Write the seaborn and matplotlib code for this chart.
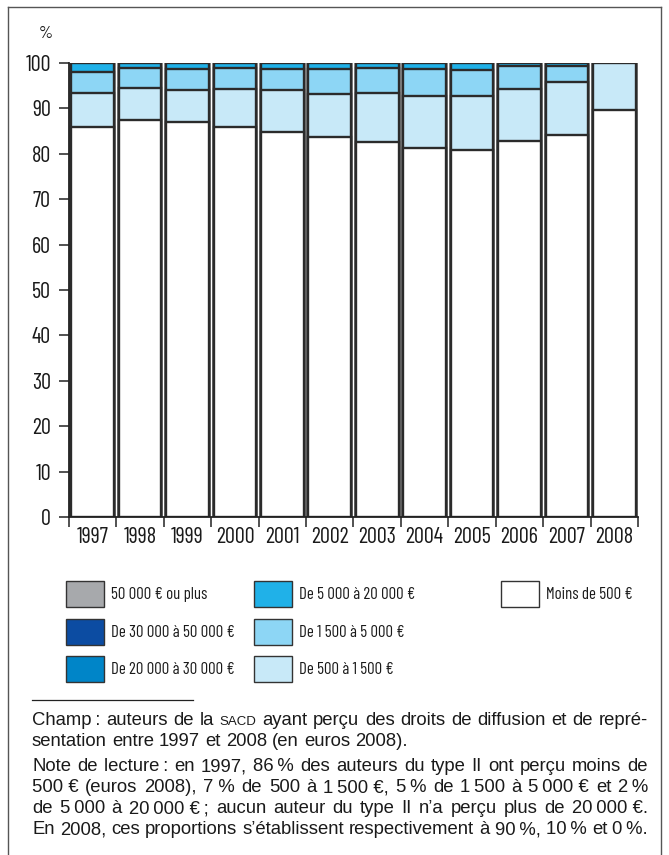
import os
import numpy as np
import pandas as pd
import seaborn as sns
import matplotlib
matplotlib.use("Agg")
import matplotlib.pyplot as plt
from matplotlib.patches import Rectangle
from matplotlib.lines import Line2D
from matplotlib import font_manager as fm
from matplotlib.font_manager import FontProperties

# ---------------- data ----------------
years = ["1997", "1998", "1999", "2000", "2001", "2002", "2003", "2004", "2005", "2006", "2007", "2008"]
moins_500 = [86.0, 87.4, 86.9, 85.9, 84.7, 83.8, 82.5, 81.2, 80.9, 82.9, 84.1, 89.6]
de_500_1500 = [7.3, 7.2, 7.2, 8.4, 9.4, 9.3, 10.9, 11.6, 11.9, 11.4, 11.7, 10.4]
de_1500_5000 = [4.7, 4.4, 4.6, 4.5, 4.6, 5.6, 5.4, 5.8, 5.7, 5.0, 3.5, 0.0]
de_5000_20000 = [2.0, 1.0, 1.3, 1.2, 1.3, 1.3, 1.2, 1.4, 1.5, 0.7, 0.7, 0.0]
de_20000_30000 = [0.0] * 12
de_30000_50000 = [0.0] * 12
plus_50000 = [0.0] * 12

series_labels = ["Moins de 500 €", "De 500 à 1 500 €", "De 1 500 à 5 000 €",
                 "De 5 000 à 20 000 €", "De 20 000 à 30 000 €",
                 "De 30 000 à 50 000 €", "50 000 € ou plus"]
series_values = [moins_500, de_500_1500, de_1500_5000, de_5000_20000,
                 de_20000_30000, de_30000_50000, plus_50000]
series_colors = ["#ffffff", "#c8e9f8", "#8dd6f5", "#20b1e8", "#0085c8", "#0c4ca2", "#a7a9ac"]

yticks = list(range(0, 101, 10))

# ---------------- fonts ----------------
PREF = ["barlowcondensed-regular.ttf", "liberationsansnarrow-regular.ttf", "arialnarrow.ttf",
        "archivonarrow-regular.ttf", "robotocondensed-regular.ttf",
        "dejavusanscondensed.ttf"]

def find_condensed():
    files = {os.path.basename(f.fname).lower(): f.fname for f in fm.fontManager.ttflist}
    for p in PREF:
        if p in files:
            return FontProperties(fname=files[p])
    return FontProperties(family="Liberation Sans")

COND = find_condensed()
REGP = FontProperties(family=["Liberation Sans", "DejaVu Sans"])

W, H = 669, 855
fig = plt.figure(figsize=(W / 100, H / 100), dpi=100)
fig.canvas.draw()
renderer = fig.canvas.get_renderer()

def calib(text, fprops, target_px):
    fp = fprops.copy()
    fp.set_size(10)
    t = fig.text(0, 0, text, fontproperties=fp)
    w = t.get_window_extent(renderer=renderer).width
    t.remove()
    return 10 * target_px / w

T = "\u2009"
N = "\u00a0"

def fx(px):
    return px / W

def fy(py):
    return 1 - py / H

tick_size = min(calib("1997", COND, 32), 19)
leg_size = min(calib("De 30 000 à 50 000 €", COND, 124), 15)

def cp(size):
    fp = COND.copy()
    fp.set_size(size)
    return fp

ax = fig.add_axes([fx(69), fy(517), fx(638) - fx(69), fy(63) - fy(517)])

edge = "#2b2b2b"
cum = np.round(np.cumsum(np.array(series_values), axis=0), 3)
for i in range(len(series_values) - 1, -1, -1):
    df = pd.DataFrame({"year": years, "value": cum[i]})
    sns.barplot(data=df, x="year", y="value", order=years, color=series_colors[i],
                saturation=1, width=0.9, edgecolor=edge, linewidth=1.7, ax=ax)

ax.set_xlim(-0.5, 11.5)
ax.set_ylim(0, 100)
ax.set_xlabel("")
ax.set_ylabel("")
for s in ["top", "right"]:
    ax.spines[s].set_visible(False)
for s in ["left", "bottom"]:
    ax.spines[s].set_color("#222222")
    ax.spines[s].set_linewidth(1.3)
ax.set_yticks(yticks)
ax.set_yticklabels([str(v) for v in yticks], fontproperties=cp(tick_size), color="#1a1a1a")
ax.tick_params(axis="y", direction="out", length=7, width=1.1, color="#222222", pad=6)
ax.set_xticks(range(len(years)))
ax.set_xticklabels(years, fontproperties=cp(tick_size), color="#1a1a1a")
ax.tick_params(axis="x", which="major", length=0, pad=7)
ax.set_xticks(np.arange(-0.5, len(years), 1), minor=True)
ax.tick_params(axis="x", which="minor", direction="out", length=7, width=1.1, color="#222222")
ax.patch.set_alpha(0)

fig.text(fx(46), fy(34), "%", fontproperties=cp(13), ha="center", va="center", style="italic",
         color="#1a1a1a")

# frame
fig.add_artist(Line2D([fx(8), fx(661)], [fy(7), fy(7)], color="#555555", lw=1.0))
fig.add_artist(Line2D([fx(8), fx(8)], [fy(7), 0], color="#555555", lw=1.0))
fig.add_artist(Line2D([fx(661), fx(661)], [fy(7), 0], color="#555555", lw=1.0))

# legend
col_x = [66, 254, 501]
row_y = [594, 632, 669]
legend_layout = [
    (0, 0, 6), (0, 1, 5), (0, 2, 4),
    (1, 0, 3), (1, 1, 2), (1, 2, 1),
    (2, 0, 0),
]
pw, ph = 38, 26
for c, r, si in legend_layout:
    x0, yc = col_x[c], row_y[r]
    fig.add_artist(Rectangle((fx(x0), fy(yc + ph / 2)), pw / W, ph / H,
                             transform=fig.transFigure, facecolor=series_colors[si],
                             edgecolor="#333333", lw=1.0))
    fig.text(fx(x0 + pw + 7), fy(yc), series_labels[si],
             fontproperties=cp(leg_size), ha="left", va="center", color="#1a1a1a")

# footnote rule
fig.add_artist(Line2D([fx(32), fx(193)], [fy(700), fy(700)], color="#222222", lw=0.9))

# footnote text with justification
left, right = 32, 648
last_line = "En 2008, ces proportions s’établissent respectivement à 90" + T + "%, 10" + T + "% et 0" + T + "%."
FS = min(calib(last_line, REGP, right - left), 14)

def rp(size):
    fp = REGP.copy()
    fp.set_size(size)
    return fp

lines = [
    ([("Champ" + T + ":", FS), ("auteurs", FS), ("de", FS), ("la", FS), ("SACD", FS * 0.72),
      ("ayant", FS), ("perçu", FS), ("des", FS), ("droits", FS), ("de", FS), ("diffusion", FS),
      ("et", FS), ("de", FS), ("repré-", FS)], 720, True),
    ([(w, FS) for w in "sentation entre 1997 et 2008 (en euros 2008).".split(" ")], 741, False),
    ([(w, FS) for w in ("Note de lecture" + T + ": en 1997, 86" + T + "% des auteurs du type II ont perçu moins de").split(" ")], 766, True),
    ([(w, FS) for w in ("500" + N + "€ (euros 2008), 7" + N + "% de 500 à 1" + T + "500" + N + "€, 5" + T + "% de 1" + T + "500 à 5" + T + "000" + N + "€ et 2" + T + "%").split(" ")], 787, True),
    ([(w, FS) for w in ("de 5" + T + "000 à 20" + T + "000" + N + "€" + T + "; aucun auteur du type II n’a perçu plus de 20" + T + "000" + N + "€.").split(" ")], 808, True),
    ([(w, FS) for w in last_line.split(" ")], 829, True),
]
sp = fig.text(0, 0, "a a", fontproperties=rp(FS))
sp2 = fig.text(0, 0, "aa", fontproperties=rp(FS))
space_w = sp.get_window_extent(renderer=renderer).width - sp2.get_window_extent(renderer=renderer).width
sp.remove(); sp2.remove()
for words, yline, justify in lines:
    objs = []
    widths = []
    for w, s in words:
        t = fig.text(0, 0, w, fontproperties=rp(s), ha="left", va="baseline", color="#1a1a1a")
        bb = t.get_window_extent(renderer=renderer)
        objs.append(t)
        widths.append(bb.width)
    if justify and len(words) > 1:
        gap = (right - left - sum(widths)) / (len(words) - 1)
    else:
        gap = space_w
    x = left
    for t, wd in zip(objs, widths):
        t.set_x(fx(x))
        t.set_y(fy(yline + 5))
        x += wd + gap

fig.savefig("out.png", dpi=100)
